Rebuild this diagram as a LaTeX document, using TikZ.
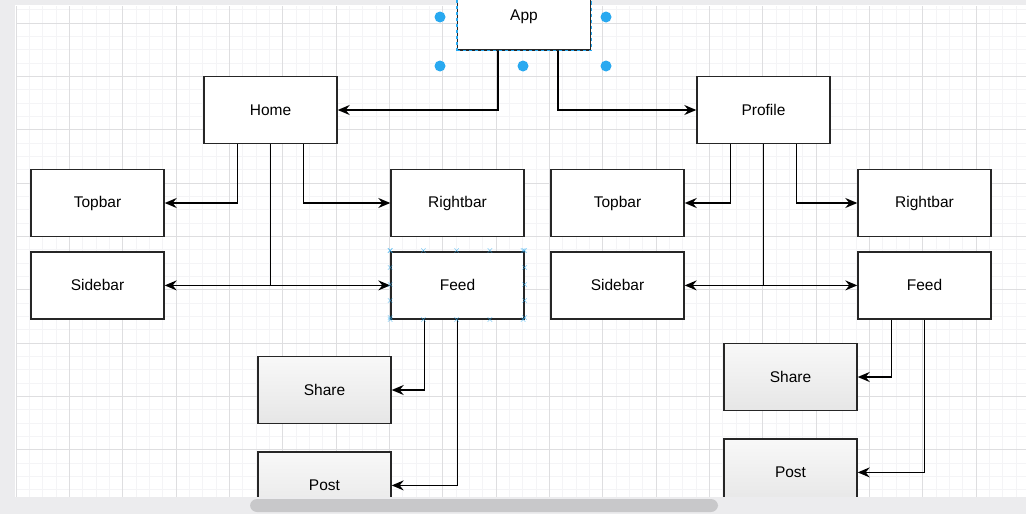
\documentclass[tikz,border=0pt]{standalone}
\usepackage{fontspec}
\setmainfont{Liberation Sans}
\usetikzlibrary{arrows.meta,positioning}
\definecolor{gridMinor}{RGB}{244,244,246}
\definecolor{gridMajor}{RGB}{222,222,224}
\definecolor{handleBlue}{RGB}{41,169,240}
\definecolor{shadeTop}{RGB}{248,248,248}
\definecolor{shadeBottom}{RGB}{230,230,230}
\definecolor{chromeGray}{RGB}{236,236,238}
\definecolor{barGray}{RGB}{200,200,202}
\tikzset{
  block/.style={draw=black!85, line width=1.4pt, fill=white, minimum width=133pt, minimum height=67pt, inner sep=0pt, font=\fontsize{15.5}{18}\selectfont},
  shadedblock/.style={block, top color=shadeTop, bottom color=shadeBottom},
  link/.style={line width=1.4pt, -{Stealth[length=12pt,width=10pt,inset=4pt]}},
  twoway/.style={line width=1.4pt, {Stealth[length=12pt,width=10pt,inset=4pt]}-{Stealth[length=12pt,width=10pt,inset=4pt]}},
  gridline/.style={draw=gridMinor, line width=0.8pt},
  majorline/.style={draw=gridMajor, line width=0.9pt},
  handle/.style={circle, fill=handleBlue, inner sep=0pt, minimum size=11pt},
}

\begin{document}
\begin{tikzpicture}[x=1pt, y=-1pt, node distance=14pt and 1cm]

    \clip (0,0) rectangle (1026,514);
    \fill[white] (0,0) rectangle (1026,514);

    % Grid
    \foreach \k in {0,...,76} {
        \draw[gridline] ({16+\k*13.333},6) -- ({16+\k*13.333},497);
    }
    \foreach \k in {-1,...,36} {
        \draw[gridline] (16,{23+\k*13.333}) -- (1026,{23+\k*13.333});
    }
    \foreach \k in {0,...,19} {
        \draw[majorline] ({16+\k*53.333},6) -- ({16+\k*53.333},497);
    }
    \foreach \k in {0,...,9} {
        \draw[majorline] (16,{23+\k*53.333}) -- (1026,{23+\k*53.333});
    }
    \fill[chromeGray] (0,0) rectangle (15,514);
    \fill[chromeGray] (0,0) rectangle (1026,5);

    % Nodes
    \node (app) [block] at (524,16.5) {App};
    \node (home) [block] at (270.5,110) {Home};
    \node (profile) [block] at (763.5,110) {Profile};

    \node (topL) [block] at (97.5,203) {Topbar};
    \node (sideL) [block, below=of topL] {Sidebar};
    \node (rightL) [block] at (457.5,203) {Rightbar};
    \node (feedL) [block, below=of rightL] {Feed};
    \node (shareL) [shadedblock] at (324.5,390) {Share};
    \node (postL) [shadedblock, below=27pt of shareL] {Post};

    \node (topR) [block] at (617.5,203) {Topbar};
    \node (sideR) [block, below=of topR] {Sidebar};
    \node (rightR) [block] at (924.5,203) {Rightbar};
    \node (feedR) [block, below=of rightR] {Feed};
    \node (shareR) [shadedblock] at (790.5,377) {Share};
    \node (postR) [shadedblock, below=27pt of shareR] {Post};

    % Connectors
    \draw [link] ([xshift=-26pt]app.south) |- (home.east);
    \draw [link] ([xshift=34pt]app.south) |- (profile.west);

    \draw [link] ([xshift=-33pt]home.south) |- (topL.east);
    \draw [link] ([xshift=33pt]home.south) |- (rightL.west);
    \draw [line width=1.4pt] (home.south) -- (home.south |- sideL.east);
    \draw [twoway] (sideL.east) -- (feedL.west);
    \draw [link] ([xshift=-33pt]feedL.south) |- (shareL.east);
    \draw [link] (feedL.south) |- (postL.east);

    \draw [link] ([xshift=-33pt]profile.south) |- (topR.east);
    \draw [link] ([xshift=33pt]profile.south) |- (rightR.west);
    \draw [line width=1.4pt] (profile.south) -- (profile.south |- sideR.east);
    \draw [twoway] (sideR.east) -- (feedR.west);
    \draw [link] ([xshift=-33pt]feedR.south) |- (shareR.east);
    \draw [link] (feedR.south) |- (postR.east);

    % Selection handles
    \draw [handleBlue, line width=1.4pt, dash pattern=on 3pt off 3pt] (app.south west) rectangle (app.north east);
    \foreach \hx/\hy in {440/17, 606/17, 440/66, 523/66, 606/66} {
        \node [handle] at (\hx,\hy) {};
    }
    \foreach \t in {0,0.25,0.5,0.75,1} {
        \foreach \p in {feedL.north west, feedL.south west} {
            \path (\p) ++({\t*133},0) node [handleBlue, font=\fontsize{10}{10}\selectfont, inner sep=0pt] {$\times$};
        }
        \foreach \p in {feedL.north west, feedL.north east} {
            \path (\p) ++(0,{\t*67}) node [handleBlue, font=\fontsize{10}{10}\selectfont, inner sep=0pt] {$\times$};
        }
    }

    % Scroll bar
    \fill[chromeGray] (0,497) rectangle (1026,514);
    \fill[barGray, rounded corners=7pt] (250,499) rectangle (718,512);

\end{tikzpicture}
\end{document}
